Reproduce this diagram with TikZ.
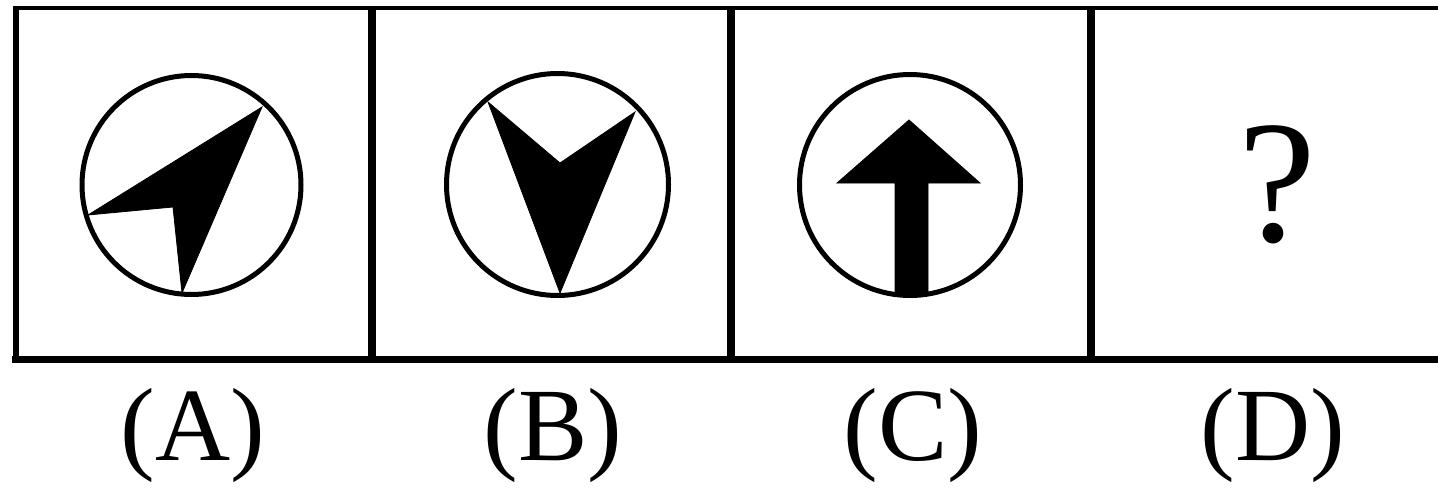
\documentclass[tikz,border=0pt]{standalone}
\usepackage{fontspec}
\setmainfont{LiberationSerif}[Extension=.ttf, UprightFont=*-Regular, BoldFont=*-Bold]
\begin{document}
\begin{tikzpicture}[x=1pt,y=-1pt,
  frame/.style={line width=#1, draw=black},
  ring/.style={circle, draw=black, line width=5pt, inner sep=0pt, minimum size=#1},
  shape fill/.style={fill=black, draw=black, line width=0.8pt, line join=miter},
  lbl/.style={anchor=base, inner sep=0pt, font=\fontsize{104}{110}\selectfont},
  qm/.style={anchor=base, inner sep=0pt, font=\fontsize{175}{180}\selectfont}]
\useasboundingbox (0,0) rectangle (1438,503);
% frame
\coordinate (tl) at (15.5,8);
\coordinate (tr) at (1440,8);
\coordinate (bl) at (15.5,359);
\coordinate (br) at (1440,359);
\draw[frame=4pt] (tl) -- (tr);
\draw[frame=7pt] (12,359) -- (br);
\draw[frame=6pt] (15.5,6) -- (15.5,362);
\coordinate (d1t) at (372,8);   \coordinate (d1b) at (372,359);
\coordinate (d2t) at (731,8);   \coordinate (d2b) at (731,359);
\coordinate (d3t) at (1091,8);  \coordinate (d3b) at (1091,359);
\draw[frame=8pt] (d1t) -- (d1b);
\draw[frame=8pt] (d2t) -- (d2b);
\draw[frame=8pt] (d3t) -- (d3b);
% A
\node[ring=219pt] (cA) at (191.5,185) {};
\fill[shape fill] (262,107) -- (88,215) -- (173,207) -- (182,293) -- cycle;
% B
\node[ring=222pt] (cB) at (557.5,184.5) {};
\fill[shape fill] (488,102) -- (560,293) -- (635,112) -- (560,163) -- cycle;
% C
\node[ring=221pt] (cC) at (910,185) {};
\fill[shape fill] (909,120) -- (980,183) -- (928,183) -- (928,293) -- (895,293) -- (895,183) -- (837,183) -- cycle;
% D
\node[qm] (q) at (1277,241) {?};
% labels
\node[lbl] (lA) at (193,460) {(A)};
\node[lbl] (lB) at (553,460) {(B)};
\node[lbl] (lC) at (913,460) {(C)};
\node[lbl] (lD) at (1273,460) {(D)};
\end{tikzpicture}
\end{document}
